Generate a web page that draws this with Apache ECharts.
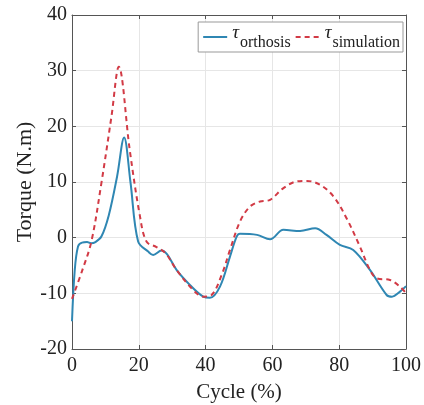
<!DOCTYPE html>
<html>
<head>
<meta charset="utf-8">
<script src="https://cdn.jsdelivr.net/npm/echarts@6/dist/echarts.min.js"></script>
<style>
  html, body { margin: 0; padding: 0; background: #fff; }
  #chart { width: 424px; height: 405px; }
</style>
</head>
<body>
<div id="chart"></div>
<script>
var orthosisX = [0, 0.8, 1.8, 3, 4.5, 5.7, 7, 8.8, 11, 13.5, 15.6, 17.5, 19.8, 22.8, 24.3, 26.8, 28.5, 31.3, 35.3, 39.3, 41.3, 44.3, 47.3, 49.3, 50.3, 55.4, 59.3, 63.3, 68.3, 72.8, 76.2, 80.2, 84.2, 89.2, 94.2, 95.8, 98.2, 100];
var orthosisY = [-15, -6, -1.6, -0.9, -0.8, -1, -0.8, 0.2, 4, 11, 18, 10, -0.7, -2.5, -3.1, -2.3, -3, -5.8, -8.5, -10.6, -10.8, -8.8, -3.4, 0.2, 0.7, 0.5, -0.3, 1.4, 1.2, 1.7, 0.5, -1.3, -2.2, -5.8, -10.3, -10.6, -9.7, -8.7];
var simulationX = [0, 3, 5.8, 8.8, 11.8, 14, 17.3, 20.3, 22.3, 25.3, 28, 31.3, 36.3, 39.3, 41.8, 44.8, 47.3, 50.3, 53.3, 56.3, 59.3, 63.3, 67.3, 70.3, 74.3, 78.3, 82.2, 86.2, 89.2, 91.2, 95.2, 98.2, 100];
var simulationY = [-11, -6, -0.7, 9.8, 21.7, 30.7, 15.7, 4, -0.7, -1.7, -2.8, -5.8, -9.4, -10.6, -10.3, -6.7, -2.2, 2.9, 5.6, 6.5, 6.8, 8.9, 10.1, 10.2, 9.5, 7.4, 3.5, -1.6, -5.8, -7.3, -7.6, -8.8, -10];
var xTicks = [0, 20, 40, 60, 80, 100];
var yTicks = [-20, -10, 0, 10, 20, 30, 40];

function pairs(xs, ys) {
  return xs.map(function (x, i) { return [x, ys[i]]; });
}

var font = 'Liberation Serif';
var chart = echarts.init(document.getElementById('chart'));
var axisCommon = {
  min: xTicks[0], max: xTicks[xTicks.length - 1], interval: 20,
  axisLine: { show: true, onZero: false, lineStyle: { color: '#555', width: 1 } },
  axisTick: { show: true, inside: true, length: 4, lineStyle: { color: '#555' } },
  splitLine: { show: false }
};
chart.setOption({
  backgroundColor: '#ffffff',
  animation: false,
  textStyle: { fontFamily: font },
  grid: { left: 72, right: 18, top: 15, bottom: 56, containLabel: false, outerBoundsMode: 'none' },
  legend: {
    top: 22, right: 21,
    backgroundColor: '#fff',
    borderColor: '#999', borderWidth: 1, borderRadius: 0,
    padding: [1, 3, 1, 4],
    itemGap: 4, itemWidth: 24, itemHeight: 10,
    itemStyle: { opacity: 0 },
    formatter: function (name) {
      return '{t|τ}{s|' + name + '}';
    },
    textStyle: {
      rich: {
        t: { fontFamily: font, fontStyle: 'italic', fontSize: 19, color: '#222', verticalAlign: 'top', padding: [0, 1, 9, 0] },
        s: { fontFamily: font, fontSize: 16, color: '#222', verticalAlign: 'bottom', padding: [10, 0, 0, 0] }
      }
    },
    data: ['orthosis', 'simulation']
  },
  xAxis: [
    Object.assign({}, axisCommon, {
      type: 'value', position: 'bottom',
      name: 'Cycle (%)', nameLocation: 'middle', nameGap: 33,
      nameTextStyle: { fontFamily: font, fontSize: 21, color: '#222' },
      axisLabel: { fontFamily: font, fontSize: 20, color: '#222', margin: 7 },
      splitLine: { show: true, lineStyle: { color: '#e6e6e6' } }
    }),
    Object.assign({}, axisCommon, {
      type: 'value', position: 'top', axisLabel: { show: false }
    })
  ],
  yAxis: [
    Object.assign({}, axisCommon, {
      type: 'value', position: 'left', min: yTicks[0], max: yTicks[yTicks.length - 1], interval: 10,
      name: 'Torque (N.m)', nameLocation: 'middle', nameGap: 36, nameMoveOverlap: false,
      nameTextStyle: { fontFamily: font, fontSize: 22, color: '#222' },
      axisLabel: { fontFamily: font, fontSize: 20, color: '#222', margin: 5 },
      splitLine: { show: true, lineStyle: { color: '#e6e6e6' } }
    }),
    Object.assign({}, axisCommon, {
      type: 'value', position: 'right', min: yTicks[0], max: yTicks[yTicks.length - 1], interval: 10,
      axisLabel: { show: false }
    })
  ],
  series: [
    {
      name: 'orthosis', type: 'line', smooth: 0.35, symbol: 'none',
      lineStyle: { color: '#2f87b3', width: 2 },
      itemStyle: { color: '#2f87b3' },
      data: pairs(orthosisX, orthosisY)
    },
    {
      name: 'simulation', type: 'line', smooth: 0.35, symbol: 'none',
      lineStyle: { color: '#d23a45', width: 2, type: [5, 4] },
      itemStyle: { color: '#d23a45' },
      data: pairs(simulationX, simulationY)
    }
  ]
});
</script>
</body>
</html>
